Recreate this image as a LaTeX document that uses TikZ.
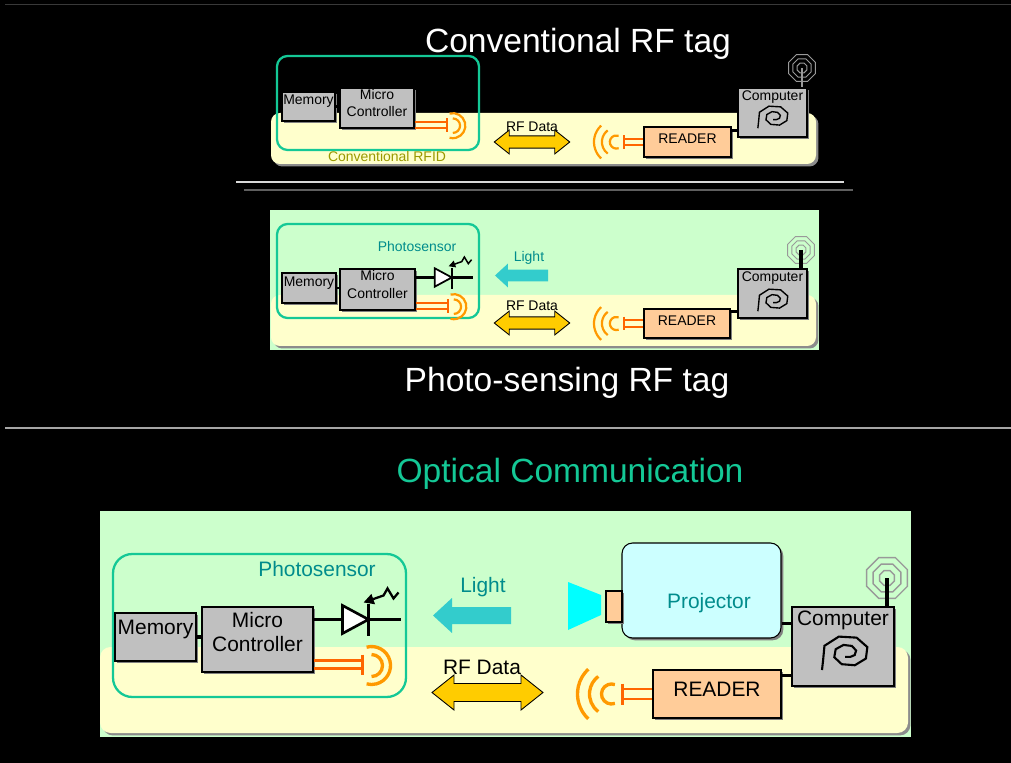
\documentclass[tikz,border=0pt]{standalone}
\usepackage{fontspec}
\setmainfont{Liberation Sans}
\usetikzlibrary{calc,shadows,arrows.meta}

\definecolor{tagtan}{HTML}{FFFFCC}
\definecolor{taggreen}{HTML}{CCFFCC}
\definecolor{ringteal}{RGB}{20,200,150}
\definecolor{boxgray}{HTML}{C0C0C0}
\definecolor{peach}{HTML}{FFCC99}
\definecolor{projcyan}{HTML}{CCFFFF}
\definecolor{lenscyan}{HTML}{00FFFF}
\definecolor{lightcyan}{HTML}{33CCCC}
\definecolor{rfyellow}{HTML}{FFCC00}
\definecolor{coilred}{HTML}{FF6600}
\definecolor{coilorange}{HTML}{FF9900}
\definecolor{textteal}{HTML}{008C8C}
\definecolor{rfidolive}{HTML}{999900}
\definecolor{aerialgray}{HTML}{999999}
\definecolor{sepgray}{HTML}{D9D9D9}
\definecolor{sepdark}{HTML}{5F5F5F}
\definecolor{rulegray}{HTML}{A6A6A6}

\newcommand\ttlsize{\fontsize{19.1pt}{23pt}\selectfont}
\newcommand\lblsize{\fontsize{11.9pt}{13.6pt}\selectfont}
\newcommand\smlsize{\fontsize{7.95pt}{9.7pt}\selectfont}

\tikzset{
  symscale/.store in=\symscale, symscale=1,
  blockbox/.style={draw=black, line width=0.6pt, fill=boxgray, inner sep=0pt,
    align=center, text=black,
    general shadow={fill=black!50, shadow xshift=1.3pt, shadow yshift=-1.3pt}},
  readerbox/.style={blockbox, fill=peach},
  % text sitting a little above the middle of a box
  boxtext/.style={label={[align=center, text=black, yshift=\symscale*4.3pt]center:#1}},
  readertext/.style={label={[text=black, yshift=\symscale*2.8pt]center:#1}},
  panel/.style={fill=tagtan, rounded corners=5pt,
    general shadow={fill=black!45, shadow xshift=1.4pt, shadow yshift=-1.4pt}},
  tagring/.style={draw=ringteal, line width=1.3pt},
  wire/.style={line width=\symscale*2.2pt},
  mast/.style={line width=\symscale*2.8pt},
  % antenna of the tag: feed lines and two arcs
  pics/tag coil/.style={code={
    \draw[coilred, line width=\symscale*1.7pt] (0,-4) -- (49,-4) (0,4) -- (49,4);
    \draw[coilred, line width=\symscale*1.9pt] (49,-10) -- (49,10);
    \draw[coilorange, line width=\symscale*1.9pt]
      ([shift={(-105:19)}]58,1) arc[start angle=-105, end angle=105, radius=19]
      ([shift={(-90:11)}]58,1) arc[start angle=-90, end angle=90, radius=11];
  }},
  % antenna of the reader: feed lines and three arcs
  pics/reader coil/.style={code={
    \draw[coilred, line width=\symscale*1.7pt] (-30,-5) -- (0,-5) (-30,5) -- (0,5);
    \draw[coilred, line width=\symscale*1.9pt] (-30,-10.5) -- (-30,10.5);
    \foreach \rad/\sa/\ea in {34/133/227, 22/127/233, 10/70/290}
      \draw[coilorange, line width=\symscale*1.9pt]
        ([shift={(\sa:\rad)}]-41,0) arc[start angle=\sa, end angle=\ea, radius=\rad];
  }},
  % photodiode with incoming light
  pics/photodiode/.style={code={
    \draw[line width=\symscale*1.9pt] (0,0) -- (87,0);
    \draw[fill=white, line width=\symscale*1.5pt, line join=miter] (29,-14) -- (55,0) -- (29,14) -- cycle;
    \draw[line width=\symscale*1.9pt] (55,-15) -- (55,17);
    \draw[line width=\symscale*1.3pt, -{Triangle[length=0pt 4.5, width=0pt 4.5]}]
      (85,-27) -- (80,-21) -- (74,-31) -- (70,-24) -- (50,-17);
  }},
  % octagonal spiral on the computer
  pics/comp spiral/.style={code={
    \draw[line width=\symscale*1.2pt, line join=miter] (-26,17) -- plot[samples at={157.5,202.5,...,787.5}]
      ({27*(1-(\x-157.5)/800)*cos(\x)}, {20*(1-(\x-157.5)/800)*sin(\x)}) -- ++(-5,0);
  }},
  % aerial rings
  pics/aerial/.style={code={
    \foreach \rad in {22,15,8}
      \draw[aerialgray, line width=\symscale*0.8pt] (22.5:\rad)
        \foreach \a in {67.5,112.5,...,337.5} { -- (\a:\rad) } -- cycle;
  }},
  pics/rf arrow/.style={code={
    \draw[fill=rfyellow, line width=0.5pt, line join=miter] (-55.5,0) -- (-33.5,-17.5) -- (-33.5,-9)
      -- (33.5,-9) -- (33.5,-17.5) -- (55.5,0) -- (33.5,17.5) -- (33.5,9) -- (-33.5,9) -- (-33.5,17.5) -- cycle;
  }},
  pics/light arrow/.style={code={
    \fill[lightcyan] (-39,0) -- (-20,-17.5) -- (-20,-8.5) -- (39,-8.5) -- (39,8.5) -- (-20,8.5) -- (-20,17.5) -- cycle;
  }}
}

\begin{document}
\begin{tikzpicture}[x=0.02cm, y=-0.02cm]
% Drawing background
\fill[black] (0,0) rectangle (1011,763);%
\useasboundingbox (0,0) rectangle (1011,763);%
\draw[gray!45!black, line width=0.6pt] (5,4.5) -- (1011,4.5);%

% Drawing conventional tag
\node[text=white, anchor=base, font=\ttlsize] (ttl1) at (578,53) {Conventional RF tag};%
\begin{scope}[symscale=0.66, every label/.style={font=\smlsize}]
\fill[panel] (271,113) rectangle (816,164);%
\draw[tagring, rounded corners=6pt] (277,56) rectangle (479,150);%
\node[text=rfidolive, font=\smlsize] (rfid1) at (387,157) {Conventional RFID};%
\node[blockbox, boxtext=Memory, minimum width=1.06cm, minimum height=0.58cm] (mem1) at (308.5,106.5) {};%
\node[blockbox, boxtext={Micro\\Controller}, minimum width=1.48cm, minimum height=0.8cm] (mc1) at (377,108) {};%
\draw[wire] (mem1.east) -- (mem1.east -| mc1.west);%
\pic[scale=0.66] at ($(mc1.south east)+(0,-3.5)$) {tag coil};%
\node[font=\smlsize] (rf1) at (532,127) {RF Data};%
\pic[scale=0.68] at (532,142) {rf arrow};%
\node[readerbox, readertext=READER, minimum width=1.74cm, minimum height=0.6cm] (rd1) at (687.5,142) {};%
\pic[scale=0.66] at (rd1.west) {reader coil};%
\node[blockbox, minimum width=1.38cm, minimum height=0.98cm] (pc1) at (772.5,112.5) {};%
\node[font=\smlsize, anchor=north, inner sep=1.5pt] (pc1t) at (pc1.north) {Computer};%
\pic[scale=0.66] at (775,117) {comp spiral};%
\draw[wire] ($(rd1.north east)+(0,4)$) coordinate (rd1tap) -- (rd1tap -| pc1.west);%
\coordinate (ant1) at (802,68);%
\pic[scale=0.66] at (ant1) {aerial};%
\draw[aerialgray, line width=0.6pt] (ant1) -- (ant1 |- pc1.north);%
\end{scope}

% Drawing separator
\draw[sepgray, line width=1.7pt] (236,182) -- (844,182);%
\draw[sepdark, line width=1.7pt] (244,190) -- (853,190);%

% Drawing photo-sensing tag
\begin{scope}[symscale=0.66, every label/.style={font=\smlsize}]
\fill[taggreen] (270,210) rectangle (819,350);%
\fill[panel] (271,295) rectangle (816,346);%
\draw[tagring, rounded corners=6pt] (277,224) rectangle (479,318);%
\node[text=textteal, font=\smlsize] (ps2) at (417,247) {Photosensor};%
\node[blockbox, boxtext=Memory, minimum width=1.08cm, minimum height=0.6cm] (mem2) at (309,288) {};%
\node[blockbox, boxtext={Micro\\Controller}, minimum width=1.5cm, minimum height=0.82cm] (mc2) at (377.5,289.5) {};%
\draw[wire] (mem2.east) -- (mem2.east -| mc2.west);%
\pic[scale=0.66] at ($(mc2.north east)+(0,9)$) {photodiode};%
\pic[scale=0.66] at ($(mc2.south east)+(0,-4.5)$) {tag coil};%
\node[text=textteal, font=\smlsize] (lt2) at (529,258) {Light};%
\pic[scale=0.68] at (521.5,275.5) {light arrow};%
\node[font=\smlsize] (rf2) at (532,306) {RF Data};%
\pic[scale=0.68] at (532,323) {rf arrow};%
\node[readerbox, readertext=READER, minimum width=1.72cm, minimum height=0.58cm] (rd2) at (687,323.5) {};%
\pic[scale=0.66] at (rd2.west) {reader coil};%
\node[blockbox, minimum width=1.38cm, minimum height=0.98cm] (pc2) at (772.5,293.5) {};%
\node[font=\smlsize, anchor=north, inner sep=1.5pt] (pc2t) at (pc2.north) {Computer};%
\pic[scale=0.66] at (775,300) {comp spiral};%
\draw[wire] ($(rd2.north east)+(0,3)$) coordinate (rd2tap) -- (rd2tap -| pc2.west);%
\coordinate (ant2) at (801,250);%
\pic[scale=0.66] at (ant2) {aerial};%
\draw[mast] (ant2) -- (ant2 |- pc2.north);%
\end{scope}
\node[text=white, anchor=base, font=\ttlsize] (ttl2) at (567,392) {Photo-sensing RF tag};%

% Drawing rule
\draw[rulegray, line width=1.1pt] (5,428) -- (1011,428);%

% Drawing optical link
\begin{scope}[every label/.style={font=\lblsize}]
\node[text=ringteal, anchor=base, font=\ttlsize] (ttl3) at (570,482) {Optical Communication};%
\fill[taggreen] (100,511) rectangle (911,737);%
\fill[panel, rounded corners=6pt] (100,647) rectangle (908,733);%
\draw[tagring, rounded corners=11pt] (113,554) rectangle (406,697);%
\node[text=textteal, font=\lblsize] (ps3) at (317,569) {Photosensor};%
\node[blockbox, boxtext=Memory, minimum width=1.62cm, minimum height=0.96cm] (mem3) at (155.5,637) {};%
\node[blockbox, boxtext={Micro\\Controller}, minimum width=2.22cm, minimum height=1.3cm] (mc3) at (257.5,639.5) {};%
\draw[wire] (mem3.east) -- (mem3.east -| mc3.west);%
\pic at ($(mc3.north east)+(0,13)$) {photodiode};%
\pic at ($(mc3.south east)+(0,-8)$) {tag coil};%
\node[text=textteal, font=\lblsize] (lt3) at (483,587) {Light};%
\pic at (472,615.5) {light arrow};%
\node[font=\lblsize] (rf3) at (482,667) {RF Data};%
\pic at (487.5,692.5) {rf arrow};%

% Drawing projector
\node[blockbox, fill=projcyan, rounded corners=6pt, minimum width=3.18cm, minimum height=1.9cm] (proj) at (701.5,590.5) {};%
\node[text=textteal, font=\lblsize] (projt) at (709,603) {Projector};%
\node[blockbox, fill=peach, general shadow={}, minimum width=0.32cm, minimum height=0.62cm] (lens) at (614,606.5) {};%
\fill[lenscyan] (568,582) -- (601,595) -- (601,615) -- (568,630) -- cycle;%

% Drawing reader and computer
\node[readerbox, readertext=READER, minimum width=2.56cm, minimum height=0.96cm] (rd3) at (717,694) {};%
\pic at (rd3.west) {reader coil};%
\node[blockbox, minimum width=2.04cm, minimum height=1.58cm] (pc3) at (843,646.5) {};%
\node[font=\lblsize, anchor=north, inner sep=2.5pt] (pc3t) at (pc3.north) {Computer};%
\pic at (848,653) {comp spiral};%
\draw[wire] ($(rd3.north east)+(0,6)$) coordinate (rd3tap) -- (rd3tap -| pc3.west);%
\draw[wire] ($(proj.south east)+(0,-15)$) coordinate (projtap) -- (projtap -| pc3.west);%
\coordinate (ant3) at (887,578);%
\pic at (ant3) {aerial};%
\draw[mast] (ant3) -- (ant3 |- pc3.north);%
\end{scope}
\end{tikzpicture}
\end{document}
